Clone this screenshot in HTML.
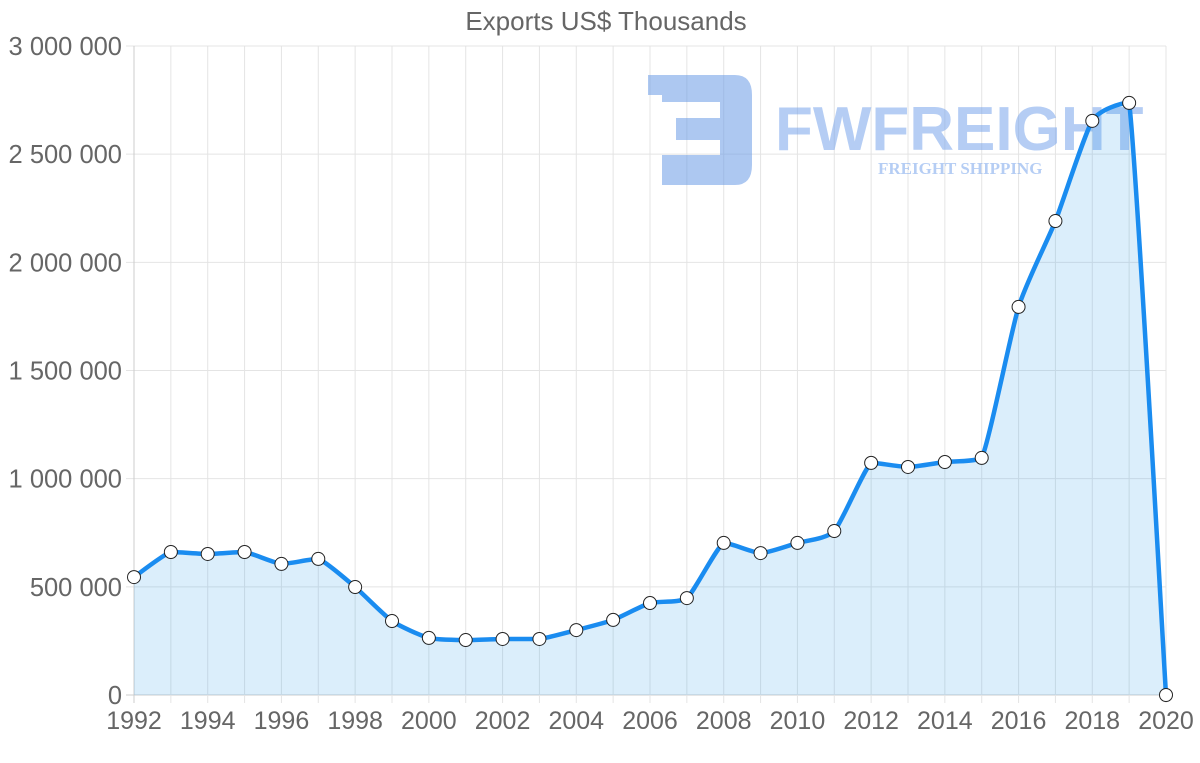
<!DOCTYPE html>
<html><head><meta charset="utf-8"><style>
html,body{margin:0;padding:0;background:#fff;width:1200px;height:763px;overflow:hidden}
svg{display:block}
text{font-family:"Liberation Sans",Arial,sans-serif;fill:#666}
</style></head><body>
<svg id="chart" width="1200" height="763" viewBox="0 0 1200 763" xmlns="http://www.w3.org/2000/svg">
<text x="606" y="30" font-size="26" text-anchor="middle">Exports US$ Thousands</text>
<g id="grid"></g>
<g id="logo" opacity="0.55">
<path d="M648 75 H735 Q752 75 752 95 V165 Q752 185 735 185 H662 V155 H720 V140 H676 V118 H720 V102 H662 V95 H648 Z" fill="#6a9be6"/>
<text x="775" y="150" font-size="62" font-weight="bold" style="fill:#7aa6ec">FWFREIGHT</text>
<text x="878" y="174" font-size="17" font-weight="bold" style="fill:#7aa6ec;font-family:'Liberation Serif',serif">FREIGHT SHIPPING</text>
</g>
<g id="series"></g>
</svg>
<script>
const years=[1992,1993,1994,1995,1996,1997,1998,1999,2000,2001,2002,2003,2004,2005,2006,2007,2008,2009,2010,2011,2012,2013,2014,2015,2016,2017,2018,2019,2020];
const exportsValues=[545000,661000,652000,661000,606000,629000,499000,342000,264000,254000,259000,259000,300000,347000,425000,448000,703000,656000,703000,758000,1073000,1054000,1077000,1096000,1794000,2191000,2654000,2737000,0];
const yTicks=[0,500000,1000000,1500000,2000000,2500000,3000000];
const yTickLabels=["0","500 000","1 000 000","1 500 000","2 000 000","2 500 000","3 000 000"];
const xTickYears=[1992,1994,1996,1998,2000,2002,2004,2006,2008,2010,2012,2014,2016,2018,2020];

const X0=134,X1=1166,Y0=695,Y1=46;
const xs=y=>X0+(y-1992)/(2020-1992)*(X1-X0);
const ys=v=>Y0-v/3000000*(Y0-Y1);
const NS="http://www.w3.org/2000/svg";
const grid=document.getElementById('grid'),ser=document.getElementById('series');
function mk(tag,attrs,parent){const e=document.createElementNS(NS,tag);for(const k in attrs)e.setAttribute(k,attrs[k]);parent.appendChild(e);return e;}

yTicks.forEach((t,i)=>{
  const l=mk('line',{x1:X0-8,x2:X1,y1:ys(t),y2:ys(t),stroke:i===0?'#ccc':'#e4e4e4','stroke-width':1},grid);
  
  
  const tx=mk('text',{x:122,y:ys(t)+9,'font-size':25.5,'text-anchor':'end'},grid);
  tx.textContent=yTickLabels[i];
  
  
});
years.forEach(y=>{
  const l=mk('line',{x1:xs(y),x2:xs(y),y1:Y1,y2:Y0+8,stroke:y===1992?'#ccc':'#e4e4e4','stroke-width':1},grid);
  
  
});
xTickYears.forEach(y=>{
  const tx=mk('text',{x:xs(y),y:729,'font-size':25,'text-anchor':'middle'},grid);
  tx.textContent=y;
  
  
});

const pts=years.map((y,i)=>[xs(y),ys(exportsValues[i])]);
const n=pts.length,T=0.1;
const clamp=(v,a,b)=>Math.max(Math.min(a,b),Math.min(Math.max(a,b),v));
let d=`M${pts[0][0]},${pts[0][1]}`;
for(let i=0;i<n-1;i++){
  const p0=pts[Math.max(i-1,0)],p1=pts[i],p2=pts[i+1],p3=pts[Math.min(i+2,n-1)];
  const c1y=clamp(p1[1]+(p2[1]-p0[1])*T,p1[1],p2[1]);
  const c2y=clamp(p2[1]-(p3[1]-p1[1])*T,p1[1],p2[1]);
  d+=` C${p1[0]+(p2[0]-p0[0])*T},${c1y} ${p2[0]-(p3[0]-p1[0])*T},${c2y} ${p2[0]},${p2[1]}`;
}
const area=mk('path',{d:d+` L${pts[n-1][0]},${Y0} L${pts[0][0]},${Y0} Z`,fill:'rgba(54,162,235,0.18)'},ser);


const line=mk('path',{d:d,fill:'none',stroke:'#1a8cf0','stroke-width':4.5,'stroke-linejoin':'round'},ser);


pts.forEach(p=>{
  const c=mk('circle',{cx:p[0],cy:p[1],r:6.5,fill:'#fff',stroke:'#222','stroke-width':1},ser);
  
  
});
</script>
</body></html>
